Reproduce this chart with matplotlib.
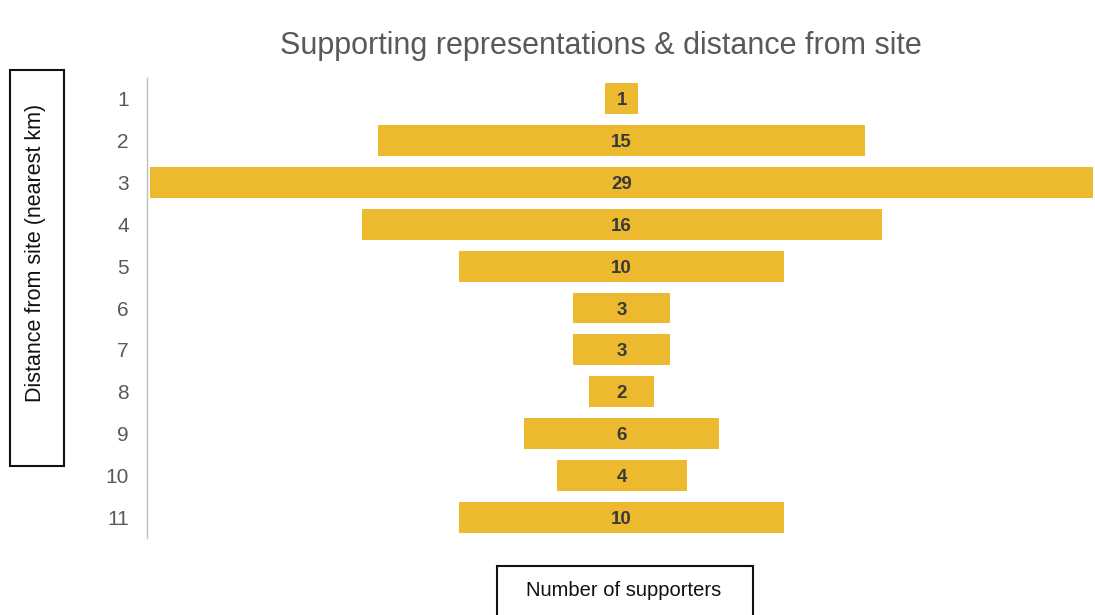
import matplotlib
matplotlib.use("Agg")
import matplotlib.pyplot as plt
from matplotlib.patches import Rectangle
import numpy as np

plt.rcParams['font.family'] = ['Liberation Sans', 'DejaVu Sans']

distances = [1, 2, 3, 4, 5, 6, 7, 8, 9, 10, 11]
supporters = [1, 15, 29, 16, 10, 3, 3, 2, 6, 4, 10]
title = "Supporting representations & distance from site"
ylabel = "Distance from site (nearest km)"
xlabel = "Number of supporters"

bar_color = "#EDB92E"

fig = plt.figure(figsize=(10.95, 6.15), dpi=100)
ax = fig.add_axes([147/1095, 1-538/615, (1093-147)/1095, 460/615])

y = np.array(distances)
v = np.array(supporters, dtype=float)
bars = ax.barh(y, v, left=-v/2, height=0.74, color=bar_color)
for yi, vi in zip(y, v):
    ax.text(0, yi, f"{int(vi)}", ha='center', va='center_baseline', fontsize=13.5,
            fontweight='bold', color='#3a3a3a')

ax.set_ylim(11.5, 0.5)
ax.set_xlim(-14.6, 14.5)
ax.set_yticks(y)
ax.set_yticklabels([str(d) for d in distances], fontsize=15, color='#595959')
ax.tick_params(axis='y', length=0, pad=13)
ax.set_xticks([])
for s in ['top', 'right', 'bottom']:
    ax.spines[s].set_visible(False)
ax.spines['left'].set_color('#bfbfbf')
ax.spines['left'].set_linewidth(1.0)

fig.text(601/1095, 1-46/615, title, ha='center', va='center', fontsize=22,
         color='#595959')

# y-label box
fig.add_artist(Rectangle((10/1095, 1-466/615), 54/1095, 396/615,
                         transform=fig.transFigure, fill=False,
                         edgecolor='#111111', linewidth=1.5))
fig.text(36/1095, 1-253/615, ylabel, rotation=90, ha='center', va='center',
         fontsize=15.5, color='#111111')

# x-label box
fig.add_artist(Rectangle((497/1095, -0.02), 256/1095, (615-566)/615 + 0.02,
                         transform=fig.transFigure, fill=False,
                         edgecolor='#111111', linewidth=1.5))
fig.text(624/1095, 1-590/615, xlabel, ha='center', va='center',
         fontsize=14.5, color='#111111')

fig.savefig("out.png", dpi=100)
